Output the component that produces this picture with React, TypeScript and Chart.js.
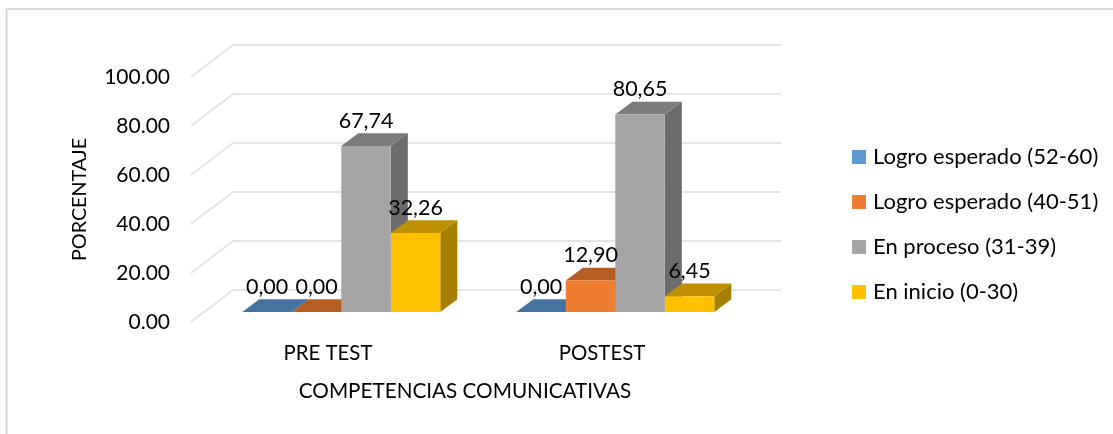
import React, { useEffect, useRef } from "react";
import { Chart, registerables } from "chart.js";

Chart.register(...registerables);

const categories = ["PRE TEST", "POSTEST"];
const seriesNames = [
  "Logro esperado (52-60)",
  "Logro esperado (40-51)",
  "En proceso (31-39)",
  "En inicio (0-30)",
];
const logroAlto = [0, 0];
const logroMedio = [0, 12.9];
const enProceso = [67.74, 80.65];
const enInicio = [32.26, 6.45];
const frontColors = ["#5b9bd5", "#ed7d31", "#a5a5a5", "#ffc000"];
const topColors = ["#44739f", "#b45d25", "#7c7c7c", "#bf9000"];
const sideColors = ["#37608a", "#a04f1f", "#6b6b6b", "#a67f00"];
const FONT = "Lato";

const W = 1113;
const H = 434;
const WALL = { dx: 42, dy: -32 };
const BAR_SHIFT = { dx: 13.3, dy: -10 };
const BAR_DEPTH = { dx: 17, dy: -12.7 };

const poly = (ctx: CanvasRenderingContext2D, pts: number[][], fill: string) => {
  ctx.beginPath();
  pts.forEach(([x, y], i) => (i ? ctx.lineTo(x, y) : ctx.moveTo(x, y)));
  ctx.closePath();
  ctx.fillStyle = fill;
  ctx.fill();
};

const depthPlugin = {
  id: "depth",
  afterLayout(chart: any) {
    const legend = chart.legend;
    legend.left = 833;
    legend.top = 123;
    legend.right = 1400;
    legend.width = legend.right - legend.left;
    legend.maxWidth = legend.width;
    legend.bottom = 340;
  },
  beforeDraw(chart: any) {
    const { ctx } = chart;
    ctx.save();
    ctx.fillStyle = "#ffffff";
    ctx.fillRect(0, 0, W, H);
    ctx.strokeStyle = "#d9d9d9";
    ctx.lineWidth = 2;
    ctx.beginPath();
    ctx.moveTo(6.5, H);
    ctx.lineTo(6.5, 9);
    ctx.lineTo(W, 9);
    ctx.stroke();
    ctx.restore();
  },
  beforeDatasetsDraw(chart: any) {
    const { ctx, chartArea, scales } = chart;
    ctx.save();
    ctx.strokeStyle = "#e4e4e4";
    ctx.lineWidth = 2;
    scales.y.ticks.forEach((_: any, i: number) => {
      const y = scales.y.getPixelForTick(i);
      ctx.beginPath();
      ctx.moveTo(chartArea.left, y);
      ctx.lineTo(chartArea.left + WALL.dx, y + WALL.dy);
      ctx.lineTo(chartArea.right + WALL.dx, y + WALL.dy);
      ctx.stroke();
    });
    ctx.translate(BAR_SHIFT.dx, BAR_SHIFT.dy);
    chart.data.datasets.forEach((_: any, d: number) => {
      chart.getDatasetMeta(d).data.forEach((bar: any) => {
        const { x, y, base, width } = bar.getProps(["x", "y", "base", "width"]);
        const l = x - width / 2;
        const r = x + width / 2;
        const { dx, dy } = BAR_DEPTH;
        poly(ctx, [[r, y], [r + dx, y + dy], [r + dx, base + dy], [r, base]], sideColors[d]);
        poly(ctx, [[l, y], [l + dx, y + dy], [r + dx, y + dy], [r, y]], topColors[d]);
      });
    });
  },
  afterDatasetsDraw(chart: any) {
    const { ctx } = chart;
    ctx.font = `21.5px ${FONT}`;
    ctx.fillStyle = "#000000";
    ctx.textAlign = "center";
    ctx.textBaseline = "middle";
    chart.data.datasets.forEach((ds: any, d: number) => {
      chart.getDatasetMeta(d).data.forEach((bar: any, i: number) => {
        const { x, y } = bar.getProps(["x", "y"]);
        ctx.fillText(ds.data[i].toFixed(2).replace(".", ","), x, y - 25);
      });
    });
    ctx.restore();
  },
};

export default function App() {
  const ref = useRef<HTMLCanvasElement>(null);
  useEffect(() => {
    const seriesValues = [logroAlto, logroMedio, enProceso, enInicio];
    const chart = new Chart(ref.current!, {
      type: "bar",
      plugins: [depthPlugin],
      data: {
        labels: categories,
        datasets: seriesNames.map((label, i) => ({
          label,
          data: seriesValues[i],
          backgroundColor: frontColors[i],
          categoryPercentage: 0.7226,
          barPercentage: 1,
        })),
      },
      options: {
        animation: false,
        responsive: false,
        layout: { padding: { left: 68, top: 77, right: 174, bottom: 30 } },
        plugins: {
          tooltip: { enabled: false },
          legend: {
            position: "right",
            align: "start",
            maxWidth: 200,
            labels: {
              color: "#000000",
              font: { family: FONT, size: 22 },
              boxWidth: 6,
              boxHeight: 6,
              padding: 23,
              generateLabels: (c: any) =>
                c.data.datasets.map((ds: any, i: number) => ({
                  text: ds.label,
                  fillStyle: ds.backgroundColor,
                  strokeStyle: ds.backgroundColor,
                  lineWidth: 8,
                  datasetIndex: i,
                })),
            },
          },
        },
        scales: {
          x: {
            afterFit: (s: any) => {
              s.height = 82;
            },
            grid: { display: false },
            border: { display: false },
            ticks: { color: "#000000", font: { family: FONT, size: 20.4 }, padding: 11, maxRotation: 0 },
            title: {
              display: true,
              text: "COMPETENCIAS COMUNICATIVAS",
              color: "#000000",
              font: { family: FONT, size: 20.7 },
              padding: 0,
            },
          },
          y: {
            min: 0,
            max: 100,
            afterFit: (s: any) => {
              s.width = 123;
            },
            grid: { display: false, drawTicks: false },
            border: { display: false },
            ticks: {
              stepSize: 20,
              color: "#000000",
              font: { family: FONT, size: 21 },
              padding: 21,
              callback: (v: any) => Number(v).toFixed(2),
            },
            title: {
              display: true,
              text: "PORCENTAJE",
              color: "#000000",
              font: { family: FONT, size: 19.8 },
              padding: 0,
            },
          },
        },
      },
    } as any);
    return () => chart.destroy();
  }, []);
  return (
    <div style={{ position: "absolute", left: 0, top: 0, width: W, height: H }}>
      <canvas ref={ref} width={W} height={H} style={{ display: "block" }} />
    </div>
  );
}
